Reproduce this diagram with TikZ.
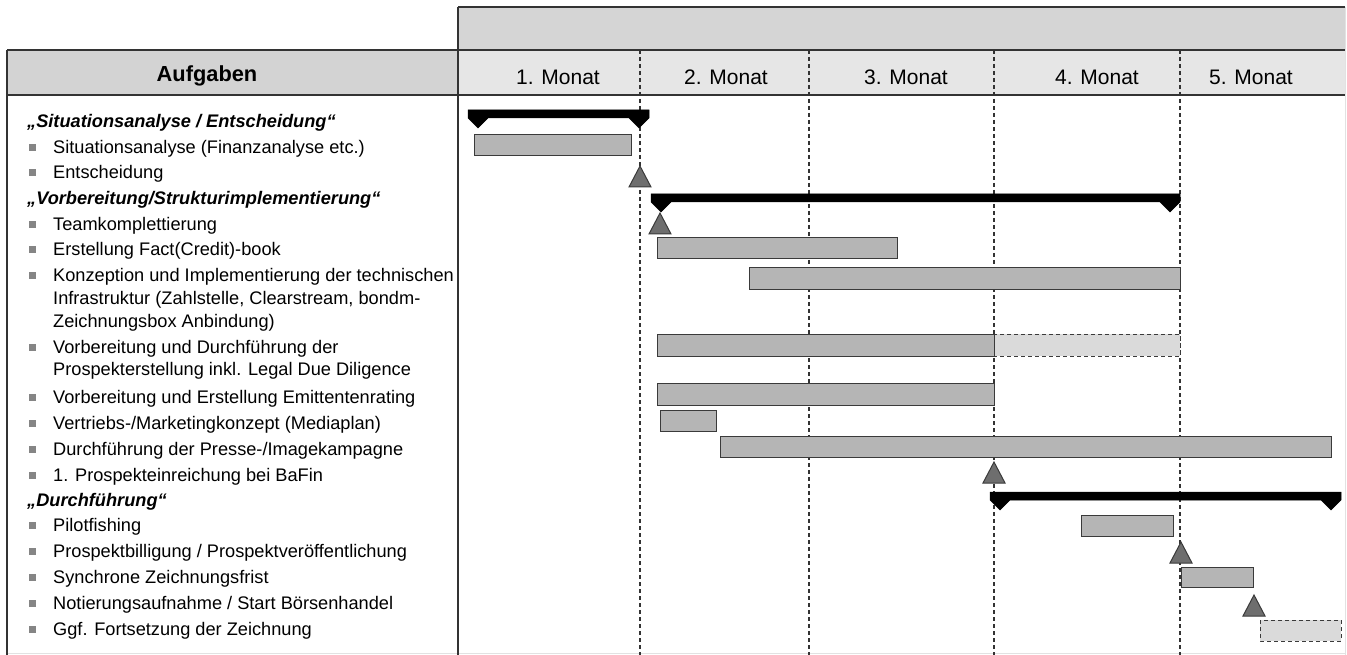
\documentclass[tikz,border=0pt]{standalone}
\usepackage{fontspec}
\setmainfont{Liberation Sans}
\usetikzlibrary{shapes.geometric}
\definecolor{hdrL}{HTML}{D3D3D3}
\definecolor{hdrM}{HTML}{E6E6E6}
\definecolor{topbox}{HTML}{D5D5D5}
\definecolor{barfill}{HTML}{B5B5B5}
\definecolor{barline}{HTML}{3A3A3A}
\definecolor{msfill}{HTML}{6E6E6E}
\definecolor{optfill}{HTML}{DADADA}
\definecolor{bulletc}{HTML}{858585}
\definecolor{gridc}{HTML}{333333}
\definecolor{faint}{HTML}{E2E2E2}
\tikzset{
  frameline/.style={draw=gridc, line width=1.3pt},
  gridline/.style={draw=gridc, line width=1.2pt, dash pattern=on 4pt off 3pt},
  taskbar/.style={fill=barfill, draw=barline, line width=1pt},
  optbar/.style={fill=optfill, draw=barline, line width=1pt, dash pattern=on 4pt off 3pt},
  msstyle/.style={fill=msfill, draw=barline, line width=1pt, line join=miter},
  sumstyle/.style={fill=black, draw=black, line width=0.5pt, line join=miter},
  heading/.style={anchor=base west, inner sep=0pt, font=\fontsize{18.2}{21}\selectfont\bfseries\itshape},
  tasktext/.style={anchor=base west, inner sep=0pt, font=\fontsize{18.2}{21}\selectfont},
  monthtext/.style={anchor=base, inner sep=0pt, font=\fontsize{21}{24}\selectfont},
  bulletsq/.style={fill=bulletc, minimum size=7pt, inner sep=0pt, draw=none, rectangle},
}
\newcommand\tasklabel[3]{%
  \node[bulletsq] (#1b) at (32,#2-6) {};
  \node[tasktext] (#1) at (53,#2) {#3};}
\newcommand\contlabel[3]{\node[tasktext] (#1) at (53,#2) {#3};}
\newcommand\summarybar[3]{%
  \draw[sumstyle] (#1,#3) -- (#2,#3) -- (#2,#3+8) -- (#2-10,#3+18) -- (#2-20,#3+8)
    -- (#1+20,#3+8) -- (#1+10,#3+18) -- (#1,#3+8) -- cycle;}
\newcommand\milestone[2]{%
  \draw[msstyle] (#1-11,#2+21) -- (#1+11,#2+21) -- (#1,#2) -- cycle;}
\begin{document}
\begin{tikzpicture}[x=1pt,y=-1pt]
\useasboundingbox (0,0) rectangle (1347,655);
% header backgrounds
\fill[topbox] (458,7) rectangle (1345,50);
\fill[hdrL] (7,50) rectangle (458,95);
\fill[hdrM] (458,50) rectangle (1345,95);
% faint outer borders
\draw[faint, line width=1pt] (1345,7) -- (1345,655);
\draw[faint, line width=1pt] (7,653) -- (1345,653);
% grid lines
\foreach \gx in {640,809,994,1180}{\draw[gridline] (\gx,50) -- (\gx,655);}
% frame lines
\draw[frameline] (458,7) -- (1345,7);
\draw[frameline] (7,50) -- (1345,50);
\draw[frameline, line width=1.8pt] (7,95) -- (1345,95);
\draw[frameline] (7,50) -- (7,655);
\draw[frameline] (458,7) -- (458,655);
% header texts
\node[monthtext, font=\fontsize{21.8}{24}\selectfont\bfseries] (aufg) at (207,82) {Aufgaben};
\node[monthtext] (m1) at (558,85) {1. Monat};
\node[monthtext] (m2) at (726,85) {2. Monat};
\node[monthtext] (m3) at (906,85) {3. Monat};
\node[monthtext] (m4) at (1097,85) {4. Monat};
\node[monthtext] (m5) at (1251,85) {5. Monat};
% task list
\node[heading] (h1) at (27,128) {„Situationsanalyse / Entscheidung“};
\tasklabel{t1}{153.3}{Situationsanalyse (Finanzanalyse etc.)}
\tasklabel{t2}{179}{Entscheidung}
\node[heading] (h2) at (27,204.3) {„Vorbereitung/Strukturimplementierung“};
\tasklabel{t3}{230.7}{Teamkomplettierung}
\tasklabel{t4}{256}{Erstellung Fact(Credit)-book}
\tasklabel{t5}{281.7}{Konzeption und Implementierung der technischen}
\contlabel{t5a}{304.3}{Infrastruktur (Zahlstelle, Clearstream, bondm-}
\contlabel{t5b}{327.3}{Zeichnungsbox Anbindung)}
\tasklabel{t6}{353.3}{Vorbereitung und Durchführung der}
\contlabel{t6a}{375.7}{Prospekterstellung inkl. Legal Due Diligence}
\tasklabel{t7}{403.3}{Vorbereitung und Erstellung Emittentenrating}
\tasklabel{t8}{429.3}{Vertriebs-/Marketingkonzept (Mediaplan)}
\tasklabel{t9}{455}{Durchführung der Presse-/Imagekampagne}
\tasklabel{t10}{481}{1. Prospekteinreichung bei BaFin}
\node[heading] (h3) at (27,506) {„Durchführung“};
\tasklabel{t11}{531.7}{Pilotfishing}
\tasklabel{t12}{557.3}{Prospektbilligung / Prospektveröffentlichung}
\tasklabel{t13}{583.3}{Synchrone Zeichnungsfrist}
\tasklabel{t14}{609}{Notierungsaufnahme / Start Börsenhandel}
\tasklabel{t15}{635}{Ggf. Fortsetzung der Zeichnung}
% summary bars
\summarybar{468}{649}{110}
\summarybar{651}{1180}{194}
\summarybar{990}{1341}{492}
% task bars
\draw[taskbar] (474,135) rectangle (631,156);
\draw[taskbar] (657,238) rectangle (897,259);
\draw[taskbar] (749,268) rectangle (1180,289);
\draw[optbar] (994,334) rectangle (1180,356);
\draw[taskbar] (657,334) rectangle (994,356);
\draw[taskbar] (657,383) rectangle (994,405);
\draw[taskbar] (660,410) rectangle (716,431);
\draw[taskbar] (720,436) rectangle (1331,457);
\draw[taskbar] (1081,515) rectangle (1173,536);
\draw[taskbar] (1181,567) rectangle (1253,587);
\draw[optbar] (1260,620) rectangle (1341,641);
% milestones
\milestone{640}{166}
\milestone{660}{213}
\milestone{994}{462}
\milestone{1181}{542}
\milestone{1254}{595}
\end{tikzpicture}
\end{document}
